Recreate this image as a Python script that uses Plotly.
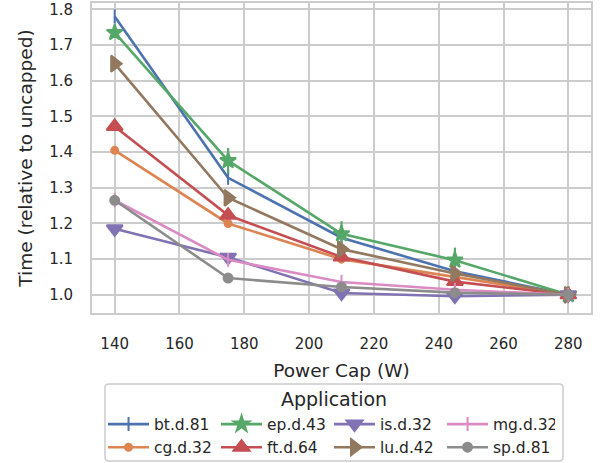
import plotly.graph_objects as go

power_cap = [140, 175, 210, 245, 280]
apps = ["bt.d.81", "cg.d.32", "ep.d.43", "ft.d.64", "is.d.32", "lu.d.42", "mg.d.32", "sp.d.81"]
bt = [1.78, 1.328, 1.16, 1.066, 1.0]
cg = [1.405, 1.2, 1.1, 1.05, 1.0]
ep = [1.735, 1.376, 1.171, 1.097, 1.0]
ft = [1.472, 1.223, 1.106, 1.037, 1.0]
is_ = [1.185, 1.105, 1.005, 0.996, 1.0]
lu = [1.648, 1.272, 1.128, 1.06, 1.0]
mg = [1.265, 1.098, 1.036, 1.014, 1.0]
sp = [1.265, 1.047, 1.022, 1.006, 1.0]
series = [bt, cg, ep, ft, is_, lu, mg, sp]

colors = ["#4C72B0", "#DD8452", "#55A868", "#C44E52", "#8172B3", "#937860", "#DA8BC3", "#8C8C8C"]
symbols = ["line-ns", "circle", "star", "triangle-up", "triangle-down", "triangle-right", "line-ns", "circle"]
sizes = [10, 7, 12, 14, 14, 14, 10, 9]
# legend order: column-major in 4 columns x 2 rows
ranks = [1, 5, 2, 6, 3, 7, 4, 8]

fig = go.Figure()
for name, ys, c, s, sz, rk in zip(apps, series, colors, symbols, sizes, ranks):
    fig.add_trace(go.Scatter(
        x=power_cap, y=ys, name=name, mode="lines+markers",
        line=dict(color=c, width=2.6),
        marker=dict(symbol=s, size=sz, color=c, line=dict(color=c, width=2)),
        legendrank=rk,
    ))
    if name == "ep.d.43":
        fig.add_trace(go.Scatter(
            x=power_cap[1:4], y=ys[1:4], mode="markers", showlegend=False,
            marker=dict(symbol="line-ns", size=18, color=c, line=dict(color=c, width=2.2)),
            hoverinfo="skip",
        ))

axis_common = dict(
    showgrid=True, gridcolor="#cccccc", gridwidth=1.5,
    showline=True, linecolor="#cccccc", linewidth=1.8, mirror=True,
    zeroline=False, ticks="outside", tickcolor="rgba(0,0,0,0)",
    tickfont=dict(family="DejaVu Sans", size=15, color="#262626"),
    automargin=False, ticklabeloverflow="allow",
)

# legend frame (rounded rectangle) in paper coordinates
W, H = 499.0, 310.0
def px_x(p):
    return (p - 92) / W
def px_y(p):
    return (313 - p) / H
bx0, bx1, by0, by1 = px_x(105), px_x(563), px_y(461), px_y(384)
rx, ry = 4 / W, 4 / H
frame = (f"M {bx0+rx},{by1} L {bx1-rx},{by1} Q {bx1},{by1} {bx1},{by1-ry} "
         f"L {bx1},{by0+ry} Q {bx1},{by0} {bx1-rx},{by0} L {bx0+rx},{by0} "
         f"Q {bx0},{by0} {bx0},{by0+ry} L {bx0},{by1-ry} Q {bx0},{by1} {bx0+rx},{by1} Z")

fig.update_layout(
    width=602, height=463,
    margin=dict(l=92, r=11, t=3, b=150),
    paper_bgcolor="white", plot_bgcolor="white",
    font=dict(family="DejaVu Sans", color="#262626"),
    xaxis=dict(
        range=[133, 287], tickmode="array", tickvals=[140, 160, 180, 200, 220, 240, 260, 280],
        ticklen=16,
        title=dict(text="Power Cap (W)", font=dict(size=18.5, color="#262626"), standoff=12),
        **axis_common,
    ),
    yaxis=dict(
        range=[0.949, 1.818], tickmode="array", tickvals=[1.0, 1.1, 1.2, 1.3, 1.4, 1.5, 1.6, 1.7, 1.8],
        tickformat=".1f", ticklen=14,
        title=dict(text="Time (relative to uncapped)", font=dict(size=18.5, color="#262626"), standoff=12),
        **axis_common,
    ),
    legend=dict(
        orientation="h", x=0.475, xanchor="center",
        yref="container", y=(463 - 407.5) / 463, yanchor="top",
        font=dict(family="DejaVu Sans", size=15.5, color="#262626"),
        borderwidth=0, bgcolor="rgba(0,0,0,0)",
        itemwidth=41, entrywidth=57, traceorder="normal",
    ),
    shapes=[dict(type="path", xref="paper", yref="paper", path=frame,
                 line=dict(color="#cccccc", width=1.5), fillcolor="white", layer="below")],
    annotations=[dict(text="Application", xref="paper", yref="paper",
                      x=px_x(334), y=px_y(399), xanchor="center", yanchor="middle",
                      showarrow=False, font=dict(size=19, color="#262626"))],
    showlegend=True,
)

fig.write_html("out.html", config={"displayModeBar": False},
               post_script="document.body.style.margin='0px';")
